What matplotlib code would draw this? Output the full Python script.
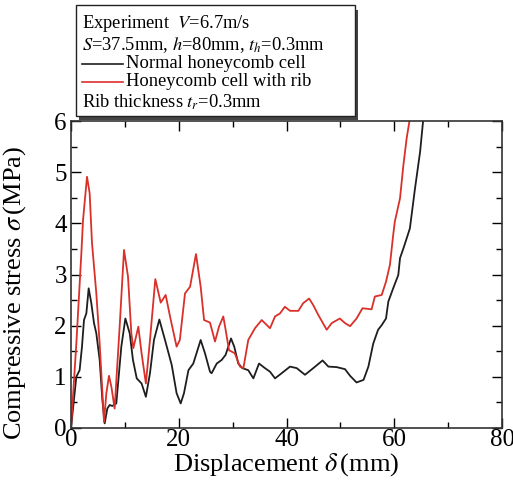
import matplotlib
matplotlib.use('Agg')
import matplotlib.pyplot as plt
from matplotlib.patches import Rectangle
from matplotlib.lines import Line2D
import numpy as np

plt.rcParams['font.family'] = ['Liberation Serif', 'DejaVu Serif']
plt.rcParams['mathtext.fontset'] = 'stix'

# Normal honeycomb cell (black)
normal_x = [0, 0.99, 1.6, 2.04, 2.41, 2.85, 3.28, 3.77, 4.27, 4.7, 5.32, 5.82, 6.25, 6.74,
            7.18, 7.67, 8.41, 9.34, 10.09, 10.9, 11.5, 12.2, 13.1, 13.9, 14.66, 15.4, 16.4,
            17.45, 18.7, 19.6, 20.36, 20.97, 21.8, 22.7, 24.07, 24.87, 25.8, 26.1, 27.05,
            27.97, 28.7, 29.7, 30.3, 31.05, 31.8, 32.9, 33.85, 34.9, 36.0, 36.94, 37.87,
            39.1, 40.65, 41.9, 43.43, 44.97, 46.7, 47.77, 49.3, 50.86, 51.8, 53.0, 54.3,
            55.2, 56.1, 57.0, 57.67, 58.47, 58.9, 59.8, 60.75, 61.07, 61.7, 62.9, 63.85,
            64.8, 65.4]
normal_y = [0, 1.0, 1.13, 1.59, 2.11, 2.24, 2.73, 2.44, 2.05, 1.85, 1.33, 0.55, 0.09, 0.38,
            0.45, 0.43, 0.48, 1.59, 2.14, 1.85, 1.33, 0.97, 0.87, 0.61, 1.07, 1.72, 2.12,
            1.72, 1.23, 0.68, 0.48, 0.68, 1.13, 1.26, 1.72, 1.46, 1.1, 1.07, 1.26,
            1.33, 1.43, 1.75, 1.59, 1.26, 1.17, 1.13, 0.97, 1.26, 1.17, 1.1, 0.97,
            1.07, 1.2, 1.17, 1.04, 1.17, 1.32, 1.2, 1.19, 1.15, 1.02, 0.89, 0.94,
            1.2, 1.65, 1.92, 2.01, 2.14, 2.47, 2.73, 2.99, 3.32, 3.51, 3.9, 4.68,
            5.4, 6.05]

# Honeycomb cell with rib (red)
rib_x = [0, 0.99, 1.92, 2.23, 2.97, 3.46, 3.9, 4.7, 5.32, 6.13, 6.56, 7.05, 7.49, 8.1, 9.03,
         9.84, 10.58, 11.2, 11.57, 12.5, 13.1, 13.9, 14.66, 15.65, 16.65, 17.57, 18.38,
         19.6, 20.2, 21.16, 22.1, 23.2, 24.07, 24.7, 25.8, 26.73, 27.47, 28.27, 28.7,
         29.33, 30.4, 31.37, 32.0, 32.9, 34.15, 35.4, 36.94, 37.87, 38.8, 39.7, 40.65,
         42.2, 43.1, 44.2, 44.97, 45.9, 47.46, 48.4, 49.9, 50.86, 51.8, 53.0, 54.1, 55.8,
         56.4, 57.67, 58.47, 59.2, 59.8, 60.1, 61.07, 61.7, 62.3, 62.9]
rib_y = [0, 1.65, 3.41, 4.06, 4.91, 4.59, 3.61, 2.63, 1.65, 0.12, 0.68, 1.02, 0.81, 0.38, 1.98,
         3.48, 2.96, 1.85, 1.56, 1.98, 1.46, 0.87, 1.72, 2.91, 2.45, 2.6, 2.18,
         1.59, 1.72, 2.63, 2.76, 3.4, 2.76, 2.11, 2.06, 1.69, 1.98, 2.18, 1.92,
         1.52, 1.46, 1.2, 1.17, 1.72, 1.95, 2.11, 1.95, 2.18, 2.24, 2.37, 2.29,
         2.29, 2.44, 2.53, 2.4, 2.21, 1.92, 2.05, 2.14, 2.05, 1.99, 2.14, 2.34, 2.32,
         2.57, 2.6, 2.86, 3.19, 3.77, 4.03, 4.49, 5.14, 5.66, 6.05]

W, H = 513, 491
fig = plt.figure(figsize=(W / 100, H / 100), dpi=100)
ax = fig.add_axes([71 / W, 1 - 428 / H, 431 / W, 307 / H])

ax.plot(normal_x, normal_y, color='#1e1e1e', lw=1.3)
ax.plot(rib_x, rib_y, color='#d9302a', lw=1.3)

ax.set_xlim(0, 80)
ax.set_ylim(0, 6)
ax.set_xticks(np.arange(0, 81, 20))
ax.set_xticks(np.arange(0, 81, 10), minor=True)
ax.set_yticks(np.arange(0, 7, 1))
ax.set_yticks(np.arange(0, 6.1, 0.5), minor=True)
ax.tick_params(which='both', direction='in', top=True, right=True, labelsize=18)
ax.tick_params(axis='x', pad=1)
ax.tick_params(axis='y', pad=3)
ax.tick_params(which='major', length=7, width=1)
ax.tick_params(which='minor', length=4, width=1)
for s in ax.spines.values():
    s.set_linewidth(1.2)
    s.set_color('#333333')

ax.set_xlabel(r'Displacement $\delta\,$(mm)', fontsize=19, labelpad=0)
ax.set_ylabel(r'Compressive stress $\sigma\,$(MPa)', fontsize=19)
ax.yaxis.set_label_coords(-0.1, 0.44)


def fx(px):
    return px / W


def fy(py):
    return 1 - py / H


# legend box with shadow
fig.patches.append(Rectangle((fx(79), fy(120)), (355 - 76) / W, (115 - 5) / H,
                             transform=fig.transFigure, facecolor='#444444', edgecolor='none'))
fig.patches.append(Rectangle((fx(76), fy(116)), (355 - 76) / W, (116 - 5) / H,
                             transform=fig.transFigure, facecolor='white', edgecolor='#222222', lw=1))

fs = 13.3
fig.text(fx(82), fy(24), r'Experiment  $V$=6.7m/s', fontsize=fs, va='center')
fig.text(fx(82), fy(45), r'$S$=37.5mm, $h$=80mm, $t_h$=0.3mm', fontsize=fs, va='center')
fig.lines.append(Line2D([fx(82), fx(123)], [fy(64), fy(64)], transform=fig.transFigure,
                        color='#1e1e1e', lw=1.2))
fig.text(fx(126), fy(63), 'Normal honeycomb cell', fontsize=fs, va='center')
fig.lines.append(Line2D([fx(82), fx(123)], [fy(82), fy(82)], transform=fig.transFigure,
                        color='#d9302a', lw=1.2))
fig.text(fx(126), fy(82), 'Honeycomb cell with rib', fontsize=fs, va='center')
fig.text(fx(82), fy(102), r'Rib thickness $t_r$=0.3mm', fontsize=fs, va='center')

fig.savefig('out.png', dpi=100)
